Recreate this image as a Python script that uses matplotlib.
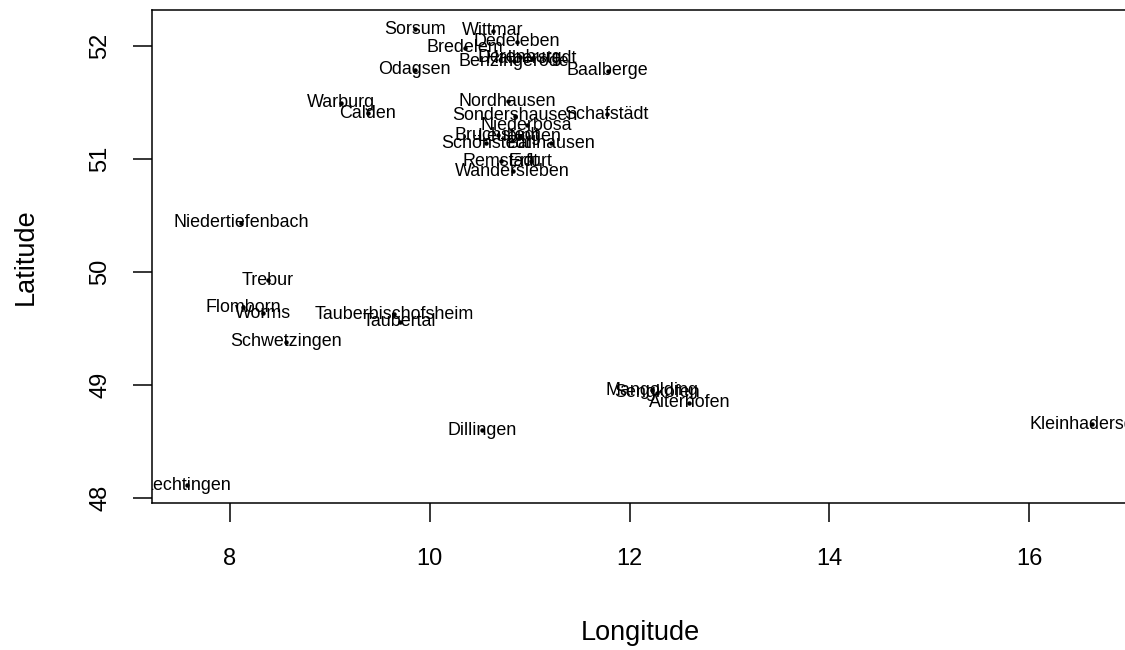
import matplotlib
matplotlib.use("Agg")
import matplotlib.pyplot as plt

# Fundorte (Länge, Breite)
orte = ["Sorsum", "Wittmar", "Dedeleben", "Bredelem", "Derenburg", "Halberstadt",
        "Benzingerode", "Odagsen", "Baalberge", "Warburg", "Calden", "Nordhausen",
        "Sondershausen", "Schafstädt", "Niederbösa", "Bruchstedt", "Leubingen",
        "Schönstedt", "Ballhausen", "Remstädt", "Erfurt", "Wandersleben",
        "Niedertiefenbach", "Trebur", "Flomborn", "Worms", "Tauberbischofsheim",
        "Taubertal", "Schwetzingen", "Mangolding", "Sengkofen", "Aiterhofen",
        "Dillingen", "Kleinhadersdorf", "Lechtingen"]
laenge = [9.85, 10.63, 10.87, 10.35, 10.90, 11.02,
          10.84, 9.85, 11.78, 9.11, 9.38, 10.78,
          10.85, 11.77, 10.97, 10.68, 10.90,
          10.56, 11.21, 10.71, 11.01, 10.83,
          8.11, 8.38, 8.13, 8.33, 9.64,
          9.70, 8.56, 12.23, 12.28, 12.60,
          10.52, 16.63, 7.57]
breite = [52.15, 52.135, 52.04, 51.985, 51.90, 51.89,
          51.867, 51.79, 51.78, 51.498, 51.404, 51.513,
          51.383, 51.395, 51.30, 51.21, 51.20,
          51.14, 51.14, 50.98, 50.98, 50.894,
          50.436, 49.929, 49.69, 49.634, 49.626,
          49.56, 49.383, 48.956, 48.93, 48.844,
          48.60, 48.655, 48.115]

fig = plt.figure(figsize=(11.25, 6.5), dpi=100)
# Achsenbereich wie im R-Plot (rechts über den Bildrand hinaus)
ax = fig.add_axes([152 / 1125, (650 - 503) / 650, (1128 - 152) / 1125, (503 - 10) / 650])

ax.plot(laenge, breite, 'o', color='black', markersize=2.2, clip_on=True)
for name, x, y in zip(orte, laenge, breite):
    ax.text(x, y, name, ha='center', va='center', fontsize=12.9,
            family='Liberation Sans', clip_on=True)

ax.set_xlim(7.22, 16.99)
ax.set_ylim(47.956, 52.319)
ax.set_xticks([8, 10, 12, 14, 16])
ax.set_yticks([48, 49, 50, 51, 52])

for s in ax.spines.values():
    s.set_linewidth(1.1)
ax.tick_params(length=13.5, width=1.1, labelsize=17)
ax.tick_params(axis='x', pad=19)
ax.tick_params(axis='y', pad=16)
plt.setp(ax.get_yticklabels(), rotation=90, va='center')
for lab in ax.get_xticklabels() + ax.get_yticklabels():
    lab.set_family('Liberation Sans')

ax.set_xlabel('Longitude', fontsize=19.5, family='Liberation Sans', labelpad=36)
ax.set_ylabel('Latitude', fontsize=19.5, family='Liberation Sans', labelpad=36)

fig.savefig('out.png', dpi=100)
